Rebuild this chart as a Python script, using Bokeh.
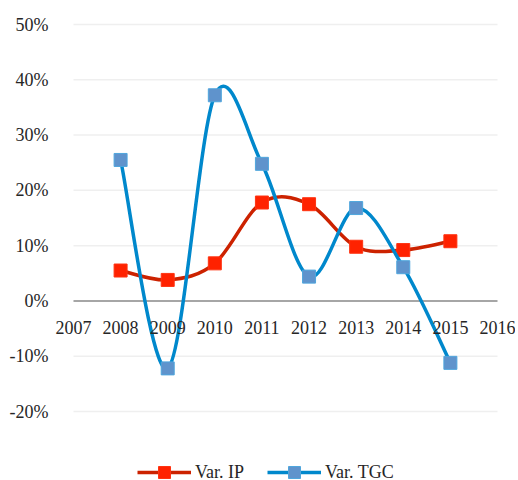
import numpy as np
from bokeh.plotting import figure
from bokeh.models import (Range1d, FixedTicker, NumeralTickFormatter,
                          Legend, LegendItem, ColumnDataSource, LabelSet)
from bokeh.embed import file_html
from bokeh.resources import INLINE

# ---- data ----
years = [2008, 2009, 2010, 2011, 2012, 2013, 2014, 2015]
var_ip = [0.055, 0.038, 0.068, 0.178, 0.175, 0.098, 0.092, 0.108]
var_tgc = [0.255, -0.122, 0.372, 0.248, 0.044, 0.168, 0.061, -0.112]
x_ticks = [2007, 2008, 2009, 2010, 2011, 2012, 2013, 2014, 2015, 2016]
x_tick_labels = [str(v) for v in x_ticks]
y_ticks = [-0.2, -0.1, 0.0, 0.1, 0.2, 0.3, 0.4, 0.5]
grid_ticks = [t for t in y_ticks if t != 0.0]

FONT = "Liberation Serif"


def smooth_segments(xs, ys):
    """Catmull-Rom style cubic Bezier control points (chart 'smoothed line')."""
    x = np.asarray(xs, float)
    y = np.asarray(ys, float)
    n = len(x)
    xp = np.concatenate([[x[0]], x, [x[-1]]])
    yp = np.concatenate([[y[0]], y, [y[-1]]])
    P0x, P1x, P2x, P3x = xp[0:n - 1], xp[1:n], xp[2:n + 1], xp[3:n + 2]
    P0y, P1y, P2y, P3y = yp[0:n - 1], yp[1:n], yp[2:n + 1], yp[3:n + 2]
    return dict(
        x0=P1x, y0=P1y, x1=P2x, y1=P2y,
        cx0=P1x + (P2x - P0x) / 6.0, cy0=P1y + (P2y - P0y) / 6.0,
        cx1=P2x - (P3x - P1x) / 6.0, cy1=P2y - (P3y - P1y) / 6.0,
    )


x_lo, x_hi = x_ticks[0], x_ticks[-1]
p = figure(width=515, height=480, output_backend="svg", toolbar_location=None,
           x_range=Range1d(x_lo - 0.509, x_hi + 0.382),
           y_range=Range1d(-0.3248, 0.5145),
           x_axis_location=None, min_border_left=49, min_border_right=0,
           min_border_top=16, min_border_bottom=0)
p.outline_line_color = None
p.background_fill_color = "white"
p.border_fill_color = "white"

# y axis
p.yaxis.ticker = FixedTicker(ticks=y_ticks)
p.yaxis.formatter = NumeralTickFormatter(format="0%")
p.yaxis.axis_line_color = None
p.yaxis.major_tick_line_color = None
p.yaxis.minor_tick_line_color = None
p.yaxis.major_tick_out = 0
p.yaxis.major_tick_in = 0
p.yaxis.minor_tick_out = 0
p.yaxis.minor_tick_in = 0
p.yaxis.major_label_standoff = 1
p.yaxis.major_label_text_font = FONT
p.yaxis.major_label_text_font_size = "18px"
p.yaxis.major_label_text_color = "#262626"

p.xgrid.visible = False
p.ygrid.visible = False

# horizontal grid lines spanning the category axis extent
p.segment(x0=[x_lo] * len(grid_ticks), x1=[x_hi] * len(grid_ticks),
          y0=grid_ticks, y1=grid_ticks, line_color="#EFEFEF", line_width=1.5,
          level="underlay")
# zero (category axis) line
p.segment(x0=[x_lo], x1=[x_hi], y0=[0.0], y1=[0.0], line_color="#A6A6A6",
          line_width=2, level="underlay")

# x tick labels along the zero line
tick_src = ColumnDataSource(dict(x=x_ticks, y=[0.0] * len(x_ticks),
                                 text=x_tick_labels))
xlabels = LabelSet(x="x", y="y", text="text", source=tick_src,
                   text_align="center", text_baseline="middle", y_offset=-27,
                   text_font=FONT, text_font_size="18px",
                   text_color="#262626")
p.add_layout(xlabels)

# series
ip_src = ColumnDataSource(smooth_segments(years, var_ip))
tgc_src = ColumnDataSource(smooth_segments(years, var_tgc))

ip_line = p.bezier(x0="x0", y0="y0", x1="x1", y1="y1", cx0="cx0", cy0="cy0",
                   cx1="cx1", cy1="cy1", source=ip_src,
                   line_color="#CC2200", line_width=3.5)
ip_pts = p.scatter(years, var_ip, marker="square", size=13,
                   fill_color="#FF2200", line_color="#FF3311", line_width=1)

tgc_line = p.bezier(x0="x0", y0="y0", x1="x1", y1="y1", cx0="cx0", cy0="cy0",
                    cx1="cx1", cy1="cy1", source=tgc_src,
                    line_color="#0088CC", line_width=3.5)
tgc_pts = p.scatter(years, var_tgc, marker="square", size=13,
                    fill_color="#5F93CC", line_color="#4FA6DD", line_width=1)

legend = Legend(items=[LegendItem(label="Var. IP", renderers=[ip_line, ip_pts]),
                       LegendItem(label="Var. TGC", renderers=[tgc_line, tgc_pts])],
                location=(88, -7), orientation="horizontal",
                glyph_width=54, glyph_height=30, label_height=30,
                label_standoff=4, spacing=23, padding=0, margin=0,
                border_line_color=None, background_fill_alpha=0,
                label_text_font=FONT, label_text_font_size="18px",
                label_text_color="#262626")
p.add_layout(legend)

open("out.html", "w").write(file_html(p, INLINE))
